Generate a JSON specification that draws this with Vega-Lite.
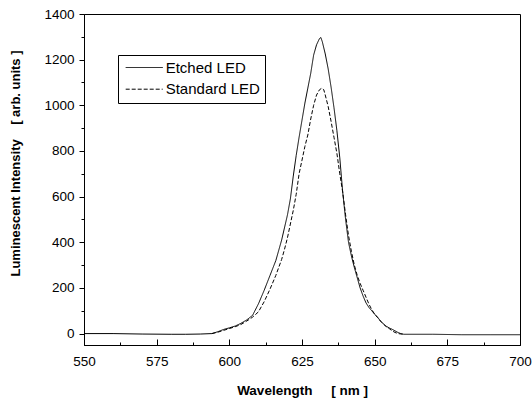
{
  "$schema": "https://vega.github.io/schema/vega-lite/v6.json",
  "width": 436,
  "height": 331,
  "autosize": "none",
  "padding": {"left": 84, "top": 14, "right": 12, "bottom": 57},
  "background": "white",
  "config": {
    "view": {"stroke": "black", "strokeWidth": 1},
    "font": "Liberation Sans",
    "axis": {"domainColor": "black", "tickColor": "black", "labelColor": "black", "titleColor": "black", "grid": false, "labelFont": "Liberation Sans", "titleFont": "Liberation Sans"}
  },
  "datasets": {
    "spec": [
      {"wl": 550, "v": 0, "s": "Etched LED"},
      {"wl": 560, "v": 0, "s": "Etched LED"},
      {"wl": 570, "v": -2, "s": "Etched LED"},
      {"wl": 580, "v": -3, "s": "Etched LED"},
      {"wl": 585, "v": -3, "s": "Etched LED"},
      {"wl": 590, "v": -2, "s": "Etched LED"},
      {"wl": 594, "v": 0, "s": "Etched LED"},
      {"wl": 596, "v": 8, "s": "Etched LED"},
      {"wl": 598, "v": 18, "s": "Etched LED"},
      {"wl": 600, "v": 25, "s": "Etched LED"},
      {"wl": 602, "v": 33, "s": "Etched LED"},
      {"wl": 604, "v": 45, "s": "Etched LED"},
      {"wl": 606, "v": 60, "s": "Etched LED"},
      {"wl": 608, "v": 80, "s": "Etched LED"},
      {"wl": 610, "v": 130, "s": "Etched LED"},
      {"wl": 612, "v": 190, "s": "Etched LED"},
      {"wl": 614, "v": 255, "s": "Etched LED"},
      {"wl": 616, "v": 320, "s": "Etched LED"},
      {"wl": 618, "v": 410, "s": "Etched LED"},
      {"wl": 620, "v": 520, "s": "Etched LED"},
      {"wl": 621, "v": 590, "s": "Etched LED"},
      {"wl": 622, "v": 690, "s": "Etched LED"},
      {"wl": 623, "v": 780, "s": "Etched LED"},
      {"wl": 624, "v": 860, "s": "Etched LED"},
      {"wl": 625, "v": 935, "s": "Etched LED"},
      {"wl": 626, "v": 1010, "s": "Etched LED"},
      {"wl": 627, "v": 1075, "s": "Etched LED"},
      {"wl": 628, "v": 1140, "s": "Etched LED"},
      {"wl": 629, "v": 1220, "s": "Etched LED"},
      {"wl": 630, "v": 1265, "s": "Etched LED"},
      {"wl": 631, "v": 1292, "s": "Etched LED"},
      {"wl": 631.5, "v": 1297, "s": "Etched LED"},
      {"wl": 632, "v": 1278, "s": "Etched LED"},
      {"wl": 633, "v": 1225, "s": "Etched LED"},
      {"wl": 634, "v": 1160, "s": "Etched LED"},
      {"wl": 635, "v": 1080, "s": "Etched LED"},
      {"wl": 636, "v": 990, "s": "Etched LED"},
      {"wl": 637, "v": 890, "s": "Etched LED"},
      {"wl": 638, "v": 770, "s": "Etched LED"},
      {"wl": 639, "v": 620, "s": "Etched LED"},
      {"wl": 640, "v": 500, "s": "Etched LED"},
      {"wl": 641, "v": 400, "s": "Etched LED"},
      {"wl": 642, "v": 340, "s": "Etched LED"},
      {"wl": 643, "v": 290, "s": "Etched LED"},
      {"wl": 644, "v": 245, "s": "Etched LED"},
      {"wl": 645, "v": 200, "s": "Etched LED"},
      {"wl": 646, "v": 165, "s": "Etched LED"},
      {"wl": 647, "v": 135, "s": "Etched LED"},
      {"wl": 648, "v": 115, "s": "Etched LED"},
      {"wl": 649, "v": 100, "s": "Etched LED"},
      {"wl": 650, "v": 85, "s": "Etched LED"},
      {"wl": 651, "v": 72, "s": "Etched LED"},
      {"wl": 652, "v": 55, "s": "Etched LED"},
      {"wl": 653, "v": 42, "s": "Etched LED"},
      {"wl": 654, "v": 32, "s": "Etched LED"},
      {"wl": 655, "v": 25, "s": "Etched LED"},
      {"wl": 656, "v": 19, "s": "Etched LED"},
      {"wl": 657, "v": 12, "s": "Etched LED"},
      {"wl": 658, "v": 5, "s": "Etched LED"},
      {"wl": 659, "v": 0, "s": "Etched LED"},
      {"wl": 660, "v": -3, "s": "Etched LED"},
      {"wl": 670, "v": -3, "s": "Etched LED"},
      {"wl": 680, "v": -5, "s": "Etched LED"},
      {"wl": 690, "v": -5, "s": "Etched LED"},
      {"wl": 700, "v": -5, "s": "Etched LED"},
      {"wl": 594, "v": 0, "s": "Standard LED"},
      {"wl": 596, "v": 6, "s": "Standard LED"},
      {"wl": 598, "v": 14, "s": "Standard LED"},
      {"wl": 600, "v": 22, "s": "Standard LED"},
      {"wl": 602, "v": 30, "s": "Standard LED"},
      {"wl": 604, "v": 40, "s": "Standard LED"},
      {"wl": 606, "v": 55, "s": "Standard LED"},
      {"wl": 608, "v": 72, "s": "Standard LED"},
      {"wl": 610, "v": 95, "s": "Standard LED"},
      {"wl": 612, "v": 140, "s": "Standard LED"},
      {"wl": 614, "v": 195, "s": "Standard LED"},
      {"wl": 616, "v": 255, "s": "Standard LED"},
      {"wl": 618, "v": 325, "s": "Standard LED"},
      {"wl": 619, "v": 370, "s": "Standard LED"},
      {"wl": 620, "v": 420, "s": "Standard LED"},
      {"wl": 621, "v": 480, "s": "Standard LED"},
      {"wl": 622, "v": 540, "s": "Standard LED"},
      {"wl": 623, "v": 610, "s": "Standard LED"},
      {"wl": 624, "v": 700, "s": "Standard LED"},
      {"wl": 625, "v": 760, "s": "Standard LED"},
      {"wl": 626, "v": 820, "s": "Standard LED"},
      {"wl": 627, "v": 870, "s": "Standard LED"},
      {"wl": 628, "v": 940, "s": "Standard LED"},
      {"wl": 629, "v": 1000, "s": "Standard LED"},
      {"wl": 630, "v": 1045, "s": "Standard LED"},
      {"wl": 631, "v": 1068, "s": "Standard LED"},
      {"wl": 631.8, "v": 1075, "s": "Standard LED"},
      {"wl": 632.5, "v": 1068, "s": "Standard LED"},
      {"wl": 633, "v": 1045, "s": "Standard LED"},
      {"wl": 634, "v": 995, "s": "Standard LED"},
      {"wl": 635, "v": 930, "s": "Standard LED"},
      {"wl": 636, "v": 860, "s": "Standard LED"},
      {"wl": 637, "v": 790, "s": "Standard LED"},
      {"wl": 638, "v": 700, "s": "Standard LED"},
      {"wl": 639, "v": 620, "s": "Standard LED"},
      {"wl": 640, "v": 520, "s": "Standard LED"},
      {"wl": 641, "v": 430, "s": "Standard LED"},
      {"wl": 642, "v": 360, "s": "Standard LED"},
      {"wl": 643, "v": 300, "s": "Standard LED"},
      {"wl": 644, "v": 255, "s": "Standard LED"},
      {"wl": 645, "v": 220, "s": "Standard LED"},
      {"wl": 646, "v": 190, "s": "Standard LED"},
      {"wl": 647, "v": 160, "s": "Standard LED"},
      {"wl": 648, "v": 130, "s": "Standard LED"},
      {"wl": 649, "v": 105, "s": "Standard LED"},
      {"wl": 650, "v": 85, "s": "Standard LED"},
      {"wl": 651, "v": 70, "s": "Standard LED"},
      {"wl": 652, "v": 55, "s": "Standard LED"},
      {"wl": 653, "v": 42, "s": "Standard LED"},
      {"wl": 654, "v": 30, "s": "Standard LED"},
      {"wl": 655, "v": 22, "s": "Standard LED"},
      {"wl": 656, "v": 12, "s": "Standard LED"},
      {"wl": 657, "v": 5, "s": "Standard LED"},
      {"wl": 658, "v": 0, "s": "Standard LED"},
      {"wl": 660, "v": -3, "s": "Standard LED"}
    ]
  },
  "data": {"name": "spec"},
  "layer": [
    {
      "mark": {"type": "line", "color": "black", "strokeWidth": 1, "clip": true},
      "encoding": {
        "x": {
          "field": "wl", "type": "quantitative",
          "scale": {"domain": [550, 700], "nice": false, "zero": false},
          "axis": {
            "title": "Wavelength \u00a0\u00a0\u00a0\u00a0[ nm ]",
            "values": [550, 575, 600, 625, 650, 675, 700],
            "format": "d",
            "tickSize": -6,
            "labelPadding": 15,
            "labelFontSize": 13.5,
            "titleFontSize": 13.5,
            "titleFontWeight": "bold",
            "titleY": 45,
            "titleBaseline": "middle",
            "labelFlush": false
          }
        },
        "y": {
          "field": "v", "type": "quantitative",
          "scale": {"domain": [-50, 1400], "nice": false, "zero": false},
          "axis": {
            "title": "Luminescent Intensity \u00a0\u00a0\u00a0[ arb. units ]",
            "values": [0, 200, 400, 600, 800, 1000, 1200, 1400],
            "format": "d",
            "tickSize": 5,
            "labelPadding": 5,
            "labelFontSize": 13.5,
            "titleFontSize": 13,
            "titleFontWeight": "bold",
            "titleX": -69,
            "titleY": 149,
            "titleBaseline": "middle",
            "labelFlush": false
          }
        },
        "detail": {"field": "s"},
        "strokeDash": {
          "field": "s", "type": "nominal",
          "scale": {"domain": ["Etched LED", "Standard LED"], "range": [[1, 0], [4, 2]]},
          "legend": {
            "title": null,
            "orient": "none",
            "legendX": 34,
            "legendY": 41,
            "strokeColor": "black",
            "fillColor": "white",
            "padding": 5,
            "symbolType": "M-3.7,0H3.7",
            "symbolSize": 100,
            "symbolOffset": 13.7,
            "symbolStrokeColor": "black",
            "symbolStrokeWidth": 1,
            "labelFontSize": 15,
            "labelFont": "Liberation Sans",
            "rowPadding": 5.7,
            "labelOffset": 14
          }
        }
      }
    },
    {
      "mark": {"type": "point", "opacity": 0},
      "encoding": {
        "x": {
          "field": "wl", "type": "quantitative",
          "axis": {
            "orient": "bottom",
            "title": null,
            "labels": false,
            "domain": false,
            "values": [562.5, 587.5, 612.5, 637.5, 662.5, 687.5],
            "tickSize": -3
          }
        },
        "y": {
          "field": "v", "type": "quantitative",
          "axis": {
            "orient": "left",
            "title": null,
            "labels": false,
            "domain": false,
            "values": [100, 300, 500, 700, 900, 1100, 1300],
            "tickSize": 3
          }
        }
      }
    }
  ],
  "resolve": {"axis": {"x": "independent", "y": "independent"}}
}
